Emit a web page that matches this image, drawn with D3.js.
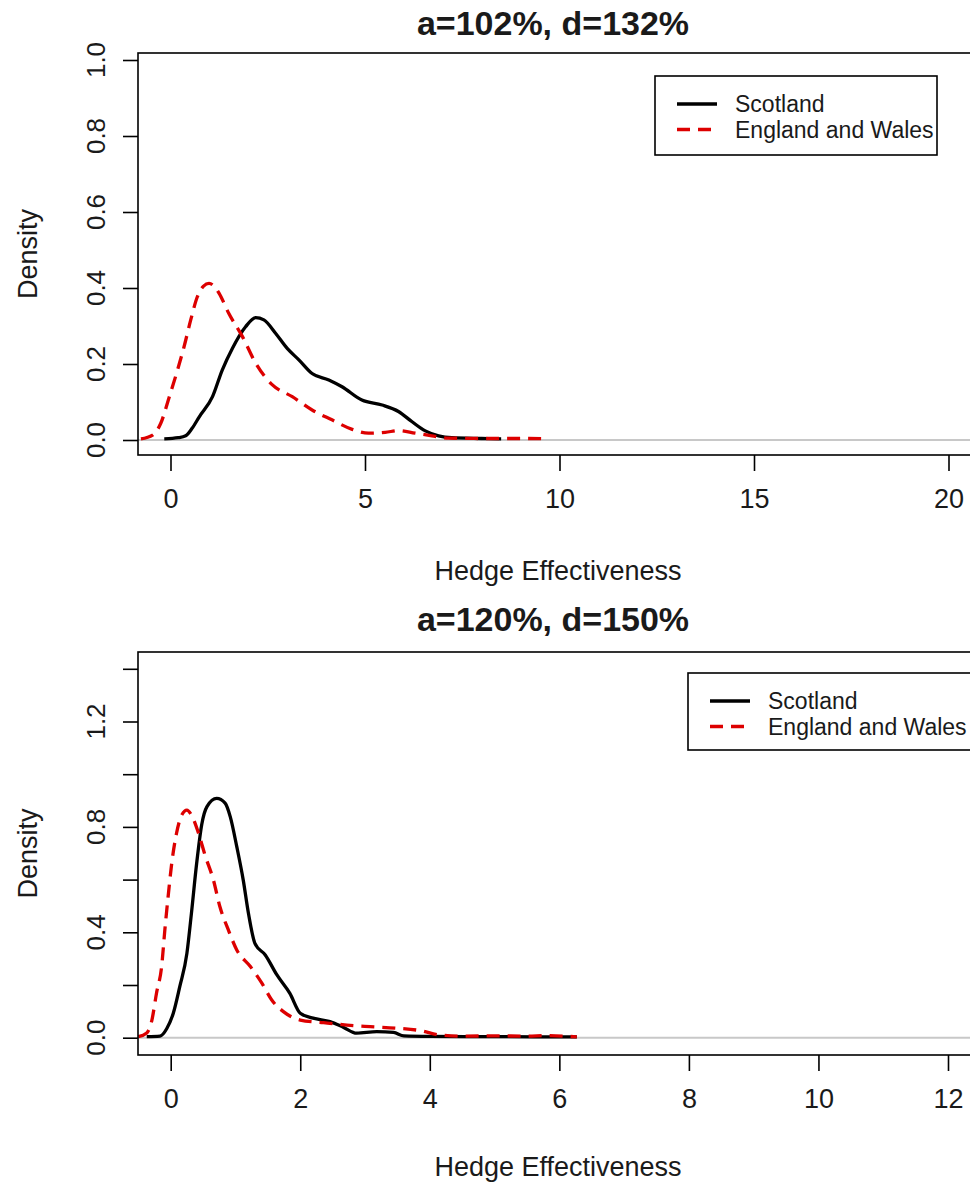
<!DOCTYPE html>
<html><head><meta charset="utf-8">
<script src="https://cdn.jsdelivr.net/npm/d3@7"></script>
<style>
html,body{margin:0;padding:0;background:#fff;}
svg text{font-family:"Liberation Sans",Arial,sans-serif;fill:#1a1a1a;}
</style></head>
<body>
<svg id="chart" width="970" height="1186"></svg>
<script>
// ---- data ----
const seriesNames = ["Scotland", "England and Wales"];
const titles = ["a=102%, d=132%", "a=120%, d=150%"];
const xLabel = "Hedge Effectiveness";
const yLabel = "Density";

const xTicksTop = [0, 5, 10, 15, 20];
const yTicksTop = [0, 0.2, 0.4, 0.6, 0.8, 1.0];
const yLabelsTop = [0, 0.2, 0.4, 0.6, 0.8, 1.0];
const xTicksBottom = [0, 2, 4, 6, 8, 10, 12];
const yTicksBottom = [0, 0.2, 0.4, 0.6, 0.8, 1.0, 1.2, 1.4];
const yLabelsBottom = [0, 0.4, 0.8, 1.2];

const scotlandTop = [[-0.16,0.003],[0.2,0.006],[0.39,0.011],[0.55,0.03],[0.74,0.061],[1.08,0.114],[1.33,0.184],[1.59,0.241],[1.93,0.298],[2.19,0.322],[2.40,0.316],[2.70,0.281],[3.0,0.241],[3.30,0.211],[3.64,0.175],[4.07,0.158],[4.41,0.140],[4.92,0.105],[5.44,0.092],[5.86,0.075],[6.21,0.048],[6.55,0.024],[6.89,0.011],[7.23,0.006],[8.0,0.004],[8.5,0.003]];
const englandTop = [[-0.76,0.003],[-0.46,0.013],[-0.25,0.044],[-0.03,0.114],[0.18,0.184],[0.35,0.246],[0.52,0.316],[0.69,0.377],[0.85,0.405],[0.99,0.412],[1.12,0.405],[1.25,0.386],[1.50,0.333],[1.85,0.272],[2.19,0.202],[2.62,0.145],[3.13,0.114],[3.64,0.079],[4.15,0.053],[4.67,0.028],[5.09,0.018],[5.52,0.020],[5.86,0.025],[6.29,0.018],[6.72,0.011],[7.15,0.005],[8.0,0.004],[9.0,0.004],[9.7,0.003]];
const scotlandBottom = [[-0.37,0.004],[-0.165,0.006],[-0.06,0.035],[0.04,0.093],[0.14,0.194],[0.25,0.32],[0.32,0.472],[0.40,0.66],[0.48,0.81],[0.56,0.877],[0.71,0.908],[0.84,0.89],[0.92,0.838],[1.02,0.725],[1.12,0.598],[1.20,0.472],[1.30,0.358],[1.46,0.314],[1.64,0.238],[1.84,0.168],[2.0,0.093],[2.20,0.074],[2.46,0.061],[2.67,0.039],[2.87,0.017],[3.18,0.023],[3.44,0.02],[3.6,0.007],[4.0,0.005],[5.0,0.004],[6.27,0.003]];
const englandBottom = [[-0.5,0.004],[-0.37,0.018],[-0.29,0.067],[-0.22,0.168],[-0.14,0.27],[-0.09,0.41],[-0.04,0.535],[0.015,0.66],[0.09,0.776],[0.17,0.845],[0.25,0.864],[0.32,0.845],[0.43,0.776],[0.53,0.693],[0.66,0.598],[0.76,0.497],[0.89,0.409],[1.02,0.333],[1.23,0.27],[1.41,0.206],[1.56,0.143],[1.74,0.099],[2.0,0.067],[2.36,0.057],[2.72,0.048],[3.08,0.042],[3.49,0.036],[3.85,0.027],[4.16,0.01],[4.5,0.006],[5.0,0.007],[5.5,0.006],[5.8,0.008],[6.27,0.003]];

// ---- layout ----
const panels = [
  {title: titles[0], box:{l:138, r:976, t:53, b:455}, titleY:35,
   xDom:[0,20], xRng:[170.5,948.5], yDom:[0,1], yRng:[440,60],
   xTicks:xTicksTop, yTicks:yTicksTop, yLabs:yLabelsTop, fmtY:d3.format(".1f"),
   series:[scotlandTop, englandTop], xTitleY:580,
   legend:{x:655, y:76, w:282, h:79}},
  {title: titles[1], box:{l:138, r:976, t:652, b:1055}, titleY:631,
   xDom:[0,12], xRng:[170.7,948], yDom:[0,1], yRng:[1037.7,774.2],
   xTicks:xTicksBottom, yTicks:yTicksBottom, yLabs:yLabelsBottom, fmtY:d3.format(".1f"),
   series:[scotlandBottom, englandBottom], xTitleY:1176,
   legend:{x:688, y:673, w:285, h:77}}
];

const svg = d3.select("#chart");
const styles = [
  {stroke:"#000", dash:null},
  {stroke:"#dd0000", dash:"13,8"}
];

panels.forEach(p => {
  const g = svg.append("g");
  const x = d3.scaleLinear().domain(p.xDom).range(p.xRng);
  const y = d3.scaleLinear().domain(p.yDom).range(p.yRng);

  // title
  g.append("text").attr("x", (p.box.l + 968)/2).attr("y", p.titleY)
    .attr("text-anchor","middle").attr("font-weight","bold").attr("font-size",34)
    .text(p.title);

  // clip
  const cid = "clip" + p.titleY;
  svg.append("clipPath").attr("id", cid).append("rect")
    .attr("x", p.box.l).attr("y", p.box.t).attr("width", p.box.r-p.box.l).attr("height", p.box.b-p.box.t);

  // zero line
  g.append("line").attr("x1", p.box.l).attr("x2", p.box.r)
    .attr("y1", y(0)).attr("y2", y(0)).attr("stroke","#c8c8c8").attr("stroke-width",2);

  // curves
  const line = d3.line().x(d=>x(d[0])).y(d=>y(d[1])).curve(d3.curveMonotoneX);
  const cg = g.append("g").attr("clip-path", `url(#${cid})`);
  p.series.forEach((s,i)=>{
    cg.append("path").datum(s).attr("d", line).attr("fill","none")
      .attr("stroke", styles[i].stroke).attr("stroke-width",3.3)
      .attr("stroke-dasharray", styles[i].dash)
      .attr("stroke-linejoin","round");
  });

  // box
  g.append("rect").attr("x", p.box.l).attr("y", p.box.t)
    .attr("width", p.box.r-p.box.l).attr("height", p.box.b-p.box.t)
    .attr("fill","none").attr("stroke","#000").attr("stroke-width",1.6);

  // x axis
  const xa = g.append("g").attr("transform", `translate(0,${p.box.b})`)
    .call(d3.axisBottom(x).tickValues(p.xTicks).tickSize(16).tickPadding(18).tickFormat(d3.format("d")));
  xa.select(".domain").remove();
  xa.selectAll("line").attr("stroke","#000").attr("stroke-width",1.6);
  xa.selectAll("text").attr("font-size",27).attr("fill","#1a1a1a").attr("font-family","Liberation Sans, Arial, sans-serif");

  // y axis
  const ya = g.append("g").attr("transform", `translate(${p.box.l},0)`)
    .call(d3.axisLeft(y).tickValues(p.yTicks).tickSize(15).tickFormat(""));
  ya.select(".domain").remove();
  ya.selectAll("line").attr("stroke","#000").attr("stroke-width",1.6);
  g.selectAll(null).data(p.yLabs).enter().append("text")
    .attr("transform", d=>`translate(105,${y(d)}) rotate(-90)`)
    .attr("text-anchor","middle").attr("font-size",26)
    .text(d=>p.fmtY(d));

  // axis titles
  g.append("text").attr("x",(p.box.l+968)/2 + 5).attr("y", p.xTitleY)
    .attr("text-anchor","middle").attr("font-size",27).text(xLabel);
  g.append("text").attr("transform",`translate(37,${(p.box.t+p.box.b)/2}) rotate(-90)`)
    .attr("text-anchor","middle").attr("font-size",27).text(yLabel);

  // legend
  const L = p.legend;
  const lg = g.append("g");
  lg.append("rect").attr("x",L.x).attr("y",L.y).attr("width",L.w).attr("height",L.h)
    .attr("fill","#fff").attr("stroke","#000").attr("stroke-width",1.6);
  seriesNames.forEach((n,i)=>{
    const yy = L.y + 28 + i*25.5;
    lg.append("line").attr("x1",L.x+22).attr("x2",L.x+62).attr("y1",yy).attr("y2",yy)
      .attr("stroke",styles[i].stroke).attr("stroke-width",3.3)
      .attr("stroke-dasharray", i===1 ? "13,8" : null);
    lg.append("text").attr("x",L.x+80).attr("y",yy+8).attr("font-size",23).text(n);
  });
});
</script>
</body></html>
